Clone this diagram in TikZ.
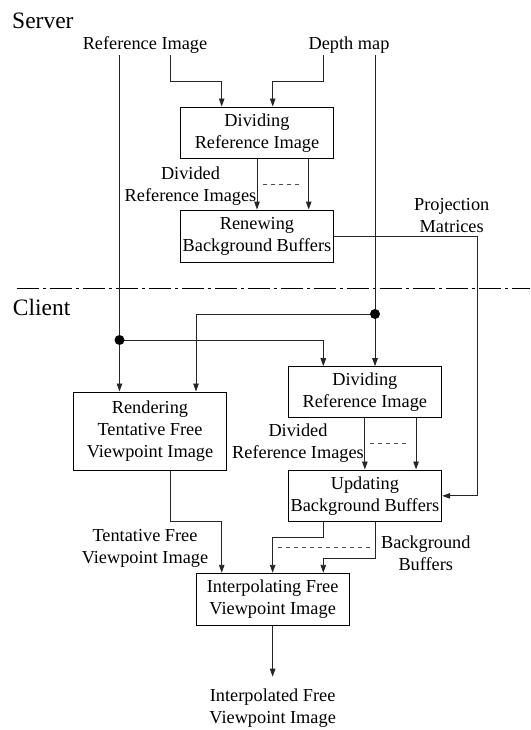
\documentclass[tikz,border=0pt]{standalone}
\usepackage{fontspec}
\setmainfont{Liberation Serif}
\usetikzlibrary{arrows.meta}
\begin{document}
\begin{tikzpicture}[x=1pt,y=-1pt,
  every node/.style={font=\fontsize{18.3}{22}\selectfont, align=center, inner sep=0pt},
  box/.style={draw, line width=1pt, minimum width=153.5pt},
  title/.style={font=\fontsize{23.5}{26}\selectfont, anchor=base west},
  conn/.style={line width=0.9pt, draw=black!85},
  arr/.style={conn, -{Triangle[length=8pt,width=5.5pt]}},
  dsh/.style={line width=0.9pt, draw=black!70, dash pattern=on 4pt off 4pt},
  sep/.style={line width=0.9pt, dash pattern=on 22pt off 4pt on 3pt off 4pt}]
\useasboundingbox (0,0) rectangle (530,730);

% titles
\node[title] (server) at (12,29) {Server};
\node[title] (client) at (12.7,315) {Client};

% separator
\coordinate (sepL) at (16.7,288.3);
\coordinate (sepR) at (530,288.3);
\draw[sep] (sepL) -- (sepR);

% input labels
\node (refimg) at (145,45) {Reference Image};
\node (depth) at (349,45) {Depth map};
\coordinate (rA) at (119.5,55);
\coordinate (rB) at (170.7,55);
\coordinate (dA) at (323,55);
\coordinate (dB) at (375,55);

% server boxes
\node[box, minimum height=51.3pt] (sdiv) at (257,132.7) {Dividing\\Reference Image};
\node[box, minimum height=52.7pt] (sren) at (257,236.4) {Renewing\\Background Buffers};

% client boxes
\node[box, minimum height=78pt] (rend) at (150,431) {Rendering\\Tentative Free\\Viewpoint Image};
\node[box, minimum height=51pt, minimum width=153.7pt] (cdiv) at (364.85,392.2) {Dividing\\Reference Image};
\node[box, minimum height=51.7pt, minimum width=153.7pt] (upd) at (364.85,495.85) {Updating\\Background Buffers};
\node[box, minimum height=52.4pt, minimum width=153.3pt] (interp) at (272.65,599.5) {Interpolating Free\\Viewpoint Image};

% labels
\node (lbl1) at (190.5,186) {Divided\\Reference Images};
\node (lbl2) at (451.7,216) {Projection\\Matrices};
\node (lbl3) at (298,443.5) {Divided\\Reference Images};
\node (lbl4) at (145,548) {Tentative Free\\Viewpoint Image};
\node (lbl5) at (425.8,553) {Background\\Buffers};
\node (out) at (272.65,708) {Interpolated Free\\Viewpoint Image};

% server connectors
\draw[arr] (rB) -- (170.7,81) -- (221.7,81) -- ([xshift=-35.3pt]sdiv.north);
\draw[arr] (dA) -- (323,81) -- (272.7,81) -- ([xshift=15.7pt]sdiv.north);
\draw[arr] (sdiv.south) -- (sren.north);
\draw[arr] ([xshift=51.7pt]sdiv.south) -- ([xshift=51.7pt]sren.north);
\coordinate (d1a) at (262.7,184);
\coordinate (d1b) at (299.3,184);
\draw[dsh] (d1a) -- (d1b);
\draw[arr] (sren.east) -- (477.3,236.4) -- (477.3,495.85) -- (upd.east);

% client connectors
\coordinate (dot1) at (375,314);
\coordinate (dot2) at (119.5,340);
\draw[conn] (dB) -- (dot1);
\draw[conn] (rA) -- (dot2);
\draw[arr] (dot1) -- ([xshift=10.15pt]cdiv.north);
\draw[arr] (dot1) -| ([xshift=46pt]rend.north);
\draw[arr] (dot2) -- ([xshift=-30.5pt]rend.north);
\draw[arr] (dot2) -| ([xshift=-41.55pt]cdiv.north);
\fill (dot1) circle (5);
\fill (dot2) circle (5);

\draw[arr] (cdiv.south) -- (upd.north);
\draw[arr] ([xshift=51.2pt]cdiv.south) -- ([xshift=51.2pt]upd.north);
\coordinate (d2a) at (370,443.3);
\coordinate (d2b) at (406.7,443.3);
\draw[dsh] (d2a) -- (d2b);

\draw[arr] ([xshift=20.7pt]rend.south) -- (170.7,521.7) -| ([xshift=-50.95pt]interp.north);
\draw[arr] ([xshift=-41.55pt]upd.south) -- ++(0,15.6) -| (interp.north);
\draw[arr] ([xshift=10.15pt]upd.south) -- ++(0,36.6) -| ([xshift=50.65pt]interp.north);
\coordinate (d3a) at (278.3,547.7);
\coordinate (d3b) at (370,547.7);
\draw[dsh] (d3a) -- (d3b);

\coordinate (outtip) at (272.65,676.7);
\draw[arr] (interp.south) -- (outtip);
\end{tikzpicture}
\end{document}
